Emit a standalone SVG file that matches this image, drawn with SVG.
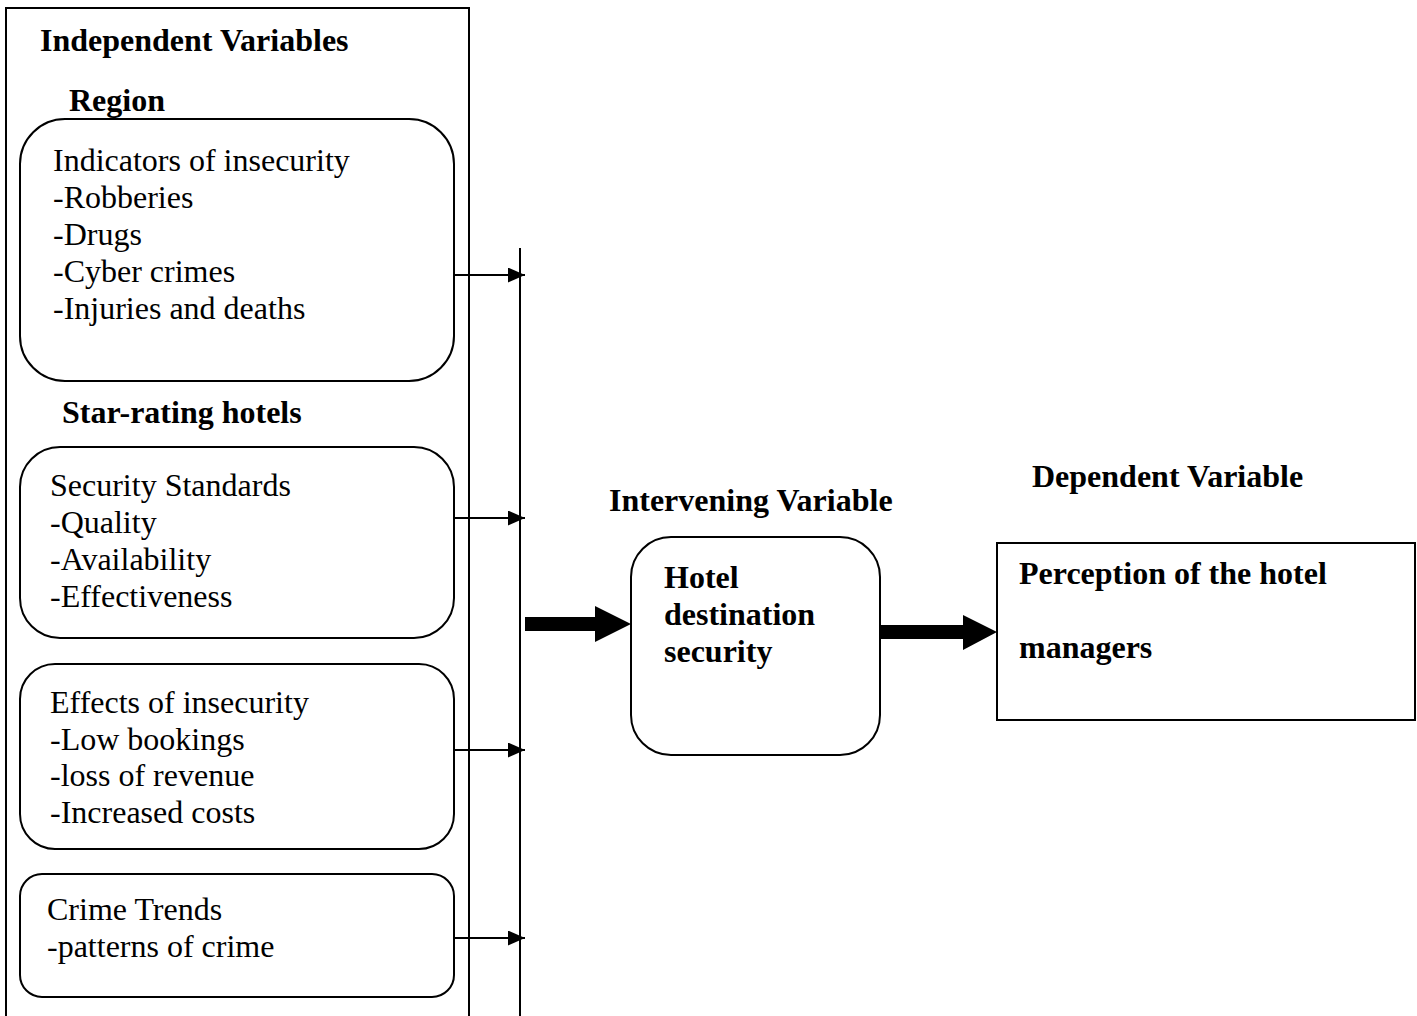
<svg xmlns="http://www.w3.org/2000/svg" width="1417" height="1016" viewBox="0 0 1417 1016">
<style>
.b{fill:none;stroke:#000;stroke-width:2}
text{font-family:"Liberation Serif","Times New Roman",serif;font-size:32px;fill:#000}
.bd{font-weight:bold}
.c{stroke:#000;stroke-width:2;fill:none}
</style>
<defs>
<marker id="ah" markerWidth="17" markerHeight="15" refX="17" refY="7.5" orient="auto" markerUnits="userSpaceOnUse">
<path d="M0,0 L17,7.5 L0,15 Z" fill="#000"/>
</marker>
</defs>
<rect width="1417" height="1016" fill="#fff"/>
<g id="independent">
<rect class="b" x="6" y="8" width="463" height="1020"/>
<text class="bd" x="40" y="51">Independent Variables</text>
<text class="bd" x="69" y="111">Region</text>
<text class="bd" x="62" y="423">Star-rating hotels</text>
</g>
<g id="indicators">
<rect class="b" x="20" y="119" width="434" height="262" rx="45"/>
<text x="53" y="171">Indicators of insecurity</text>
<text x="53" y="208">-Robberies</text>
<text x="53" y="245">-Drugs</text>
<text x="53" y="282">-Cyber crimes</text>
<text x="53" y="319">-Injuries and deaths</text>
</g>
<g id="security">
<rect class="b" x="20" y="447" width="434" height="191" rx="40"/>
<text x="50" y="496">Security Standards</text>
<text x="50" y="533">-Quality</text>
<text x="50" y="570">-Availability</text>
<text x="50" y="607">-Effectiveness</text>
</g>
<g id="effects">
<rect class="b" x="20" y="664" width="434" height="185" rx="35"/>
<text x="50" y="713">Effects of insecurity</text>
<text x="50" y="750">-Low bookings</text>
<text x="50" y="786">-loss of revenue</text>
<text x="50" y="823">-Increased costs</text>
</g>
<g id="crime">
<rect class="b" x="20" y="874" width="434" height="123" rx="22"/>
<text x="47" y="920">Crime Trends</text>
<text x="47" y="957">-patterns of crime</text>
</g>
<g id="intervening">
<text class="bd" x="609" y="511">Intervening Variable</text>
<rect class="b" x="631" y="537" width="249" height="218" rx="40"/>
<text class="bd" x="664" y="588">Hotel</text>
<text class="bd" x="664" y="625">destination</text>
<text class="bd" x="664" y="662">security</text>
</g>
<g id="dependent">
<text class="bd" x="1032" y="487">Dependent Variable</text>
<rect class="b" x="997" y="543" width="418" height="177"/>
<text class="bd" x="1019" y="584">Perception of the hotel</text>
<text class="bd" x="1019" y="658">managers</text>
</g>
<g id="connectors">
<line class="c" x1="520" y1="248" x2="520" y2="1016"/>
<line class="c" x1="454" y1="275" x2="525" y2="275" marker-end="url(#ah)"/>
<line class="c" x1="454" y1="518" x2="525" y2="518" marker-end="url(#ah)"/>
<line class="c" x1="454" y1="750" x2="525" y2="750" marker-end="url(#ah)"/>
<line class="c" x1="454" y1="938" x2="525" y2="938" marker-end="url(#ah)"/>
<path d="M525,617 L595,617 L595,606 L631,624 L595,642 L595,631 L525,631 Z" fill="#000"/>
<path d="M880,625 L963,625 L963,615 L997,632 L963,650 L963,639 L880,639 Z" fill="#000"/>
</g>
</svg>
